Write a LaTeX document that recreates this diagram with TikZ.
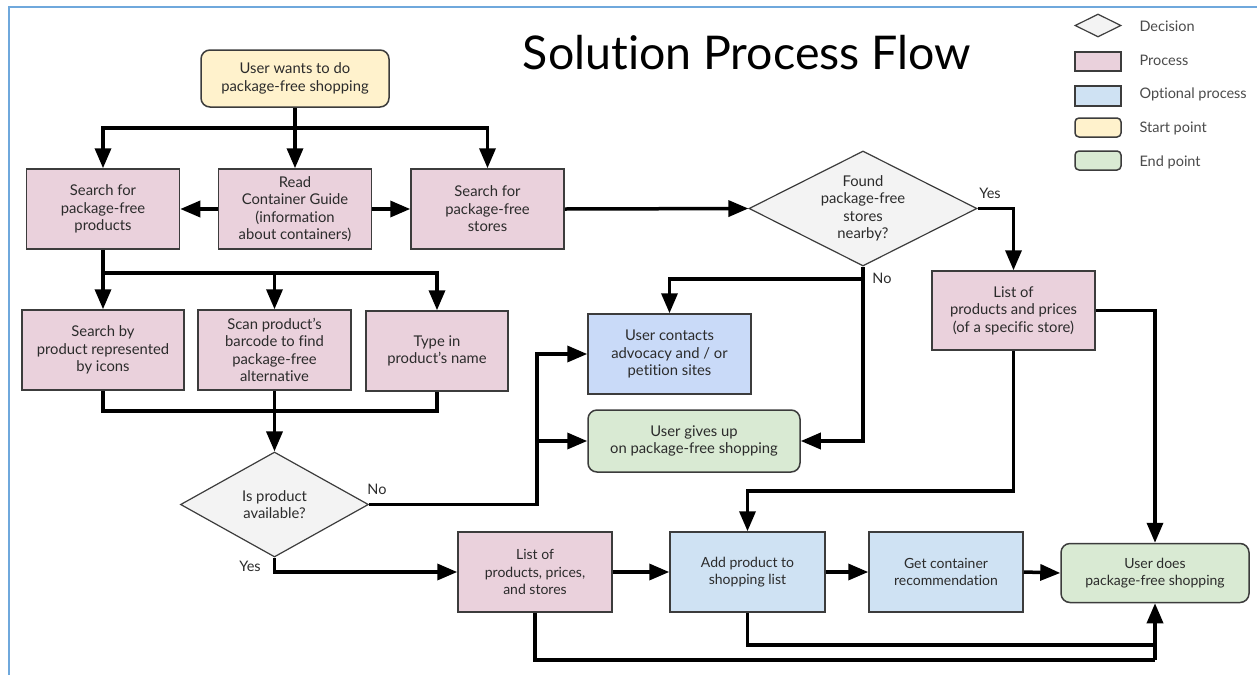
\documentclass[tikz,border=0pt]{standalone}
\usepackage{fontspec}
\setmainfont[Ligatures=NoCommon]{Lato}
\usetikzlibrary{arrows.meta,shapes.geometric}
\definecolor{procfill}{HTML}{EAD1DC}
\definecolor{optfill}{HTML}{CFE2F3}
\definecolor{advfill}{HTML}{C9DAF8}
\definecolor{startfill}{HTML}{FFF2CC}
\definecolor{endfill}{HTML}{D9EAD3}
\definecolor{decfill}{HTML}{F3F3F3}
\definecolor{edge}{HTML}{3C3C3C}
\definecolor{txt}{HTML}{2B2B2B}
\definecolor{frame}{HTML}{6FA8DC}
\tikzset{
  box/.style={rectangle, draw=edge, line width=1.5pt, inner sep=0pt, align=center,
    text=txt, font=\fontsize{14.8}{17.5}\selectfont},
  proc/.style={box, fill=procfill},
  opt/.style={box, fill=optfill},
  startbox/.style={box, fill=startfill, rounded corners=9pt},
  endbox/.style={box, fill=endfill, rounded corners=9pt},
  dec/.style={diamond, draw=edge, line width=1.2pt, fill=decfill, inner sep=0pt},
  dectext/.style={align=center, text=txt, font=\fontsize{14.8}{17.5}\selectfont},
  lbl/.style={text=txt, font=\fontsize{14.5}{16}\selectfont},
  ln/.style={line width=3.5pt, draw=black},
  arr/.style={ln, -{Triangle[length=20pt,width=16pt]}},
  legtxt/.style={anchor=west, text=txt!85, font=\fontsize{14.5}{16}\selectfont},
}
\begin{document}
\begin{tikzpicture}[x={(1pt,0pt)}, y={(0pt,-1pt)}]
\useasboundingbox (0,0) rectangle (1257,675);
\fill[white] (0,0) rectangle (1257,675);
\draw[frame, line width=2pt] (9,675) -- (9,7) -- (1257,7);

% title
\node[text=black, font=\fontsize{46.5}{52}\selectfont] (title) at (747,53) {Solution Process Flow};

% legend
\node[dec, minimum width=46, minimum height=23] (lgd) at (1098,25.5) {};
\node[proc, minimum width=46, minimum height=19] (lgp) at (1098,61.5) {};
\node[opt, minimum width=46, minimum height=20] (lgo) at (1098,96) {};
\node[startbox, rounded corners=4pt, minimum width=46, minimum height=19] (lgs) at (1098,127.5) {};
\node[endbox, rounded corners=4pt, minimum width=46, minimum height=19] (lge) at (1098,160.5) {};
\node[legtxt] (lgdt) at (1136,26) {Decision};
\node[legtxt] (lgpt) at (1136,60) {Process};
\node[legtxt] (lgot) at (1136,94) {Optional process};
\node[legtxt] (lgst) at (1136,128) {Start point};
\node[legtxt] (lget) at (1136,162) {End point};

% nodes
\node[startbox, minimum width=188, minimum height=57] (start) at (295,78.5) {User wants to do\\package-free shopping};
\node[proc, minimum width=153, minimum height=80] (sp) at (103,209) {Search for\\package-free\\products};
\node[proc, minimum width=153, minimum height=80] (rg) at (295,209) {Read\\Container Guide\\(information\\about containers)};
\node[proc, minimum width=153, minimum height=80] (ss) at (487.5,209) {Search for\\package-free\\stores};
\node[proc, minimum width=162, minimum height=80] (si) at (103,350) {Search by\\product represented\\by icons};
\node[proc, minimum width=153, minimum height=80] (sc) at (274.5,350) {Scan product’s\\barcode to find\\package-free\\alternative};
\node[proc, minimum width=142, minimum height=80] (ty) at (437,351) {Type in\\product’s name};
\node[dec, minimum width=188, minimum height=105] (d1) at (274.5,504.5) {};
\node[dectext] (d1t) at (274.5,504.5) {Is product\\available?};
\node[dec, minimum width=228, minimum height=115] (d2) at (863,208.5) {};
\node[dectext] (d2t) at (863,208.5) {Found\\package-free\\stores\\nearby?};
\node[box, fill=advfill, minimum width=163, minimum height=80] (adv) at (669.5,354) {User contacts\\advocacy and / or\\petition sites};
\node[endbox, minimum width=212, minimum height=62] (gu) at (694,441) {User gives up\\on package-free shopping};
\node[proc, minimum width=163, minimum height=79] (lst) at (1013.5,310.5) {List of\\products and prices\\(of a specific store)};
\node[proc, minimum width=154, minimum height=80, font=\fontsize{14}{17.5}\selectfont] (lps) at (535,572) {List of\\products, prices,\\and stores};
\node[opt, minimum width=155, minimum height=80, font=\fontsize{14}{17.5}\selectfont] (add) at (747.5,572) {Add product to\\shopping list};
\node[opt, minimum width=154, minimum height=80, font=\fontsize{14}{17.5}\selectfont] (gc) at (946,572) {Get container\\recommendation};
\node[endbox, minimum width=188, minimum height=59, font=\fontsize{14}{17.5}\selectfont] (ud) at (1155,573) {User does\\package-free shopping};

% junction coordinates
\coordinate (b1) at (295,128);
\coordinate (b2) at (103,273);
\coordinate (b3) at (103,411);
\coordinate (j1) at (537,504.5);
\coordinate (j2) at (863,279);
\coordinate (j3) at (1013.5,491);
\coordinate (j4) at (1155,660);
\coordinate (j5) at (1155,645);

% connectors
\draw[arr] (start.south) -- (rg.north);
\draw[arr] (b1) -| (sp.north);
\draw[arr] (b1) -| (ss.north);
\draw[arr] (rg.west) -- (sp.east);
\draw[arr] (rg.east) -- (ss.west);
\draw[arr] (sp.south) -- (si.north);
\draw[arr] (b2) -| (sc.north);
\draw[arr] (b2) -| (ty.north);
\draw[ln] (si.south) -- (b3) -| (ty.south);
\draw[arr] (sc.south) -- (d1.north);
\draw[arr] (d1.east) -- (j1) |- (adv.west);
\draw[arr] (j1 |- gu.west) -- (gu.west);
\draw[arr] (d1.south) |- (lps.west);
\draw[arr] (ss.east) -- (d2.west);
\draw[arr] (d2.south) -- (j2) -| (adv.north);
\draw[arr] (j2) |- (gu.east);
\draw[arr] (d2.east) -| (lst.north);
\draw[arr] (lst.east) -| (ud.north);
\draw[arr] (lst.south) -- (j3) -| (add.north);
\draw[arr] (lps.east) -- (add.west);
\draw[arr] (add.east) -- (gc.west);
\draw[arr] (gc.east) -- (ud.west);
\draw[ln] (lps.south) |- (j4);
\draw[ln] (add.south) |- (j5);
\draw[arr] (j4) -- (ud.south);

% labels
\node[lbl] (ly1) at (250,566) {Yes};
\node[lbl] (ln1) at (377,489) {No};
\node[lbl] (ln2) at (882,278) {No};
\node[lbl] (ly2) at (990,193) {Yes};
\end{tikzpicture}
\end{document}
